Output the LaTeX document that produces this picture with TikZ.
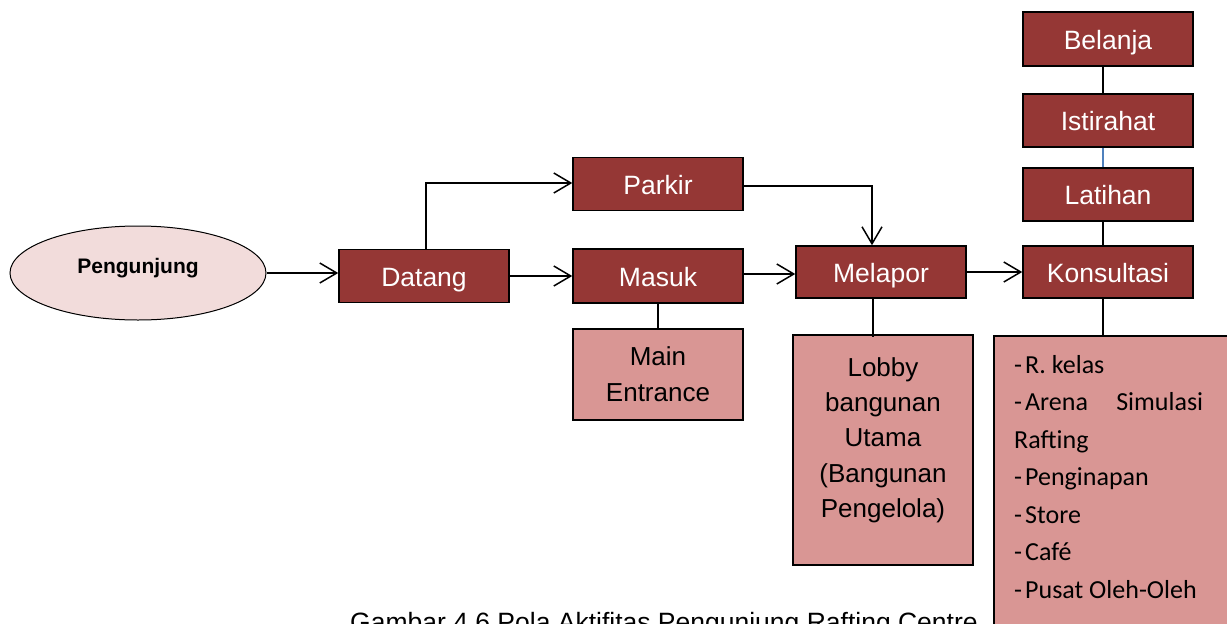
\documentclass[tikz,border=0pt]{standalone}
\usepackage{fontspec}
\setmainfont{Liberation Sans}
\newfontfamily\calibri{Carlito}
\usetikzlibrary{arrows.meta,shapes.geometric,positioning,calc}
\definecolor{darkbox}{HTML}{953735}
\definecolor{lightbox}{HTML}{D99694}
\definecolor{ellfill}{HTML}{F2DCDB}
\definecolor{bluelink}{HTML}{4F81BD}
\tikzset{
  darkstep/.style={draw=black, line width=1.5pt, fill=darkbox, text=white,
    minimum width=170pt, minimum height=53pt, inner sep=0pt,
    text height=20pt, text depth=0pt,
    font=\fontsize{26.5}{31}\selectfont},
  lightstep/.style={draw=black, line width=1.5pt, fill=lightbox, text=black,
    inner sep=0pt, align=center, font=\fontsize{26}{36}\selectfont},
  conn/.style={line width=1.5pt, draw=black},
  arr/.style={conn, -{Straight Barb[length=17pt,width=20pt,line width=1.5pt]}},
}
\begin{document}
\begin{tikzpicture}[x=1pt,y=-1pt]
\useasboundingbox (0,0) rectangle (1227,624);
\fill[white] (0,0) rectangle (1227,624);
\clip (0,0) rectangle (1227,624);

% ellipse
\node[ellipse, draw=black, line width=1pt, fill=ellfill, minimum width=256pt, minimum height=94pt, inner sep=0pt,
  label={[font=\fontsize{21}{25}\selectfont\bfseries, yshift=5pt]center:Pengunjung}] (peng) at (138,273) {};

% dark boxes
\node[darkstep] (datang) at (424,276) {Datang};
\node[darkstep] (parkir) at (658,184) {Parkir};
\node[darkstep, minimum height=54pt] (masuk) at (658,276) {Masuk};
\node[darkstep, minimum height=52pt] (melapor) at (881,272) {Melapor};
\node[darkstep, minimum height=52pt] (kons) at (1108,272) {Konsultasi};
\node[darkstep] (latihan) at (1108,194.5) {Latihan};
\node[darkstep] (istirahat) at (1108,120.5) {Istirahat};
\node[darkstep, minimum height=54pt] (belanja) at (1108,39) {Belanja};

% light boxes
\node[lightstep, minimum width=170pt, minimum height=91pt] (mainent) at (658,374.5) {Main\\Entrance};
\node[lightstep, minimum width=180pt, minimum height=230pt,
  label={[font=\fontsize{26}{35.3}\selectfont, align=center, yshift=10pt]center:{Lobby\\bangunan\\Utama\\(Bangunan\\Pengelola)}}] (lobby) at (883,450) {};
\node[lightstep, minimum width=247pt, minimum height=305pt, anchor=north west,
  label={[anchor=north west, inner sep=0pt, xshift=21pt, yshift=-20pt, text width=189pt, align=flush left,
          font=\calibri\fontsize{26}{37.5}\selectfont]north west:{%
    \makebox[11pt][l]{-}R. kelas\\
    \makebox[11pt][l]{-}Arena\hfill Simulasi\\
    Rafting\\
    \makebox[11pt][l]{-}Penginapan\\
    \makebox[11pt][l]{-}Store\\
    \makebox[11pt][l]{-}Café\\
    \makebox[11pt][l]{-}Pusat Oleh-Oleh}}] (list) at (993,335) {};

% arrows
\draw[arr] (peng.east) -- (peng.east -| datang.west);
\draw[arr] (datang.east) -- (masuk.west);
\draw[arr] ([xshift=2pt]datang.north) |- ([yshift=1pt]parkir.west);
\draw[arr] ([yshift=2pt]masuk.east) -- ([yshift=2pt]masuk.east -| melapor.west);
\draw[arr] ([yshift=-2pt]parkir.east) -| ([xshift=-9pt]melapor.north);
\draw[arr] (melapor.east) -- (kons.west);

% plain links
\draw[conn] (masuk.south) -- (mainent.north);
\draw[conn] ([xshift=-8pt]melapor.south) -- ([xshift=-8pt,yshift=-3pt]melapor.south |- lobby.north);
\draw[conn] ([xshift=-5pt]kons.south) -- ([xshift=-5pt]kons.south |- list.north);
\draw[conn] ([xshift=-5pt]kons.north) -- ([xshift=-5pt]latihan.south);
\draw[line width=1.2pt, draw=bluelink] ([xshift=-5pt]latihan.north) -- ([xshift=-5pt]istirahat.south);
\draw[conn] ([xshift=-5pt]istirahat.north) -- ([xshift=-5pt]belanja.south);

% caption (cut off at the bottom edge, as in the reference)
\node[anchor=base west, inner sep=0pt, font=\fontsize{26.5}{30}\selectfont] (caption) at (350,631) {Gambar 4.6 Pola Aktifitas Pengunjung Rafting Centre};
\end{tikzpicture}
\end{document}
